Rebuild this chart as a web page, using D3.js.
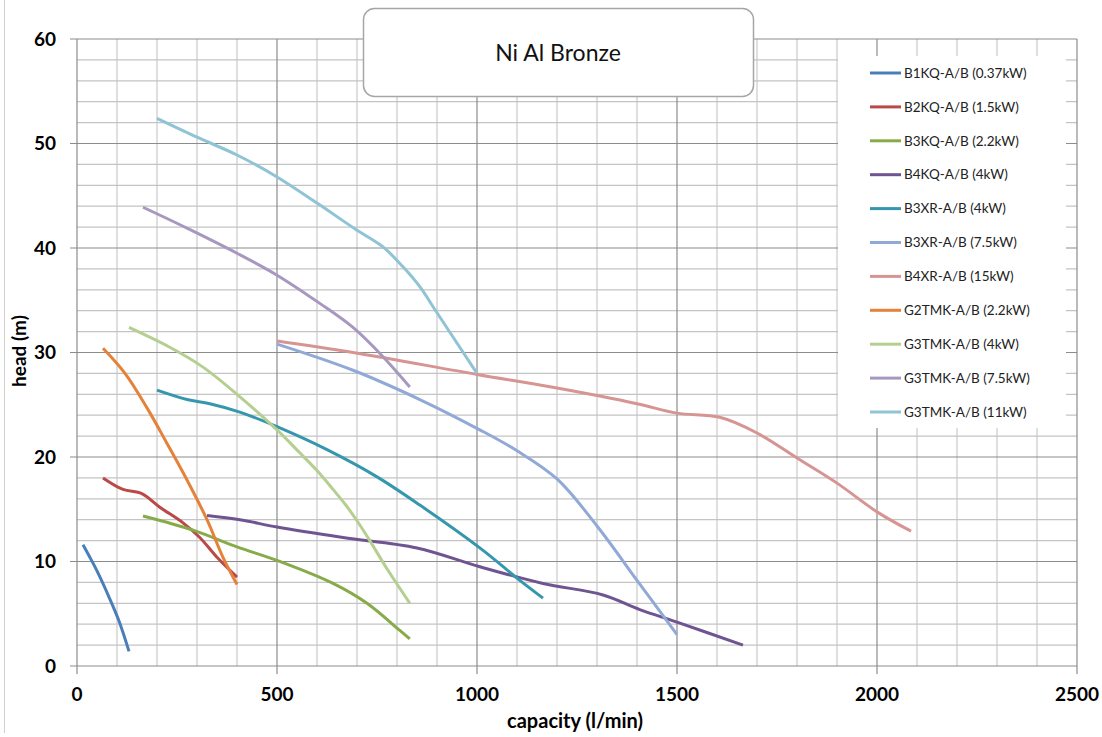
<!DOCTYPE html>
<html>
<head>
<meta charset="utf-8">
<script src="https://cdn.jsdelivr.net/npm/d3@7"></script>
<style>
  body { margin: 0; background: #fff; }
  text { font-family: Lato, "Open Sans", sans-serif; }
</style>
</head>
<body>
<div id="chart"></div>
<script>
// pump curves, [capacity l/min, head m]
const b1kq037 = [[15, 11.6], [35, 10.2], [50, 9.1], [80, 6.6], [105, 4.3], [130, 1.4]];
const b2kq15 = [[65, 18.0], [115, 16.9], [162, 16.5], [207, 15.2], [265, 13.7], [307, 12.3], [350, 10.4], [400, 8.5]];
const b3kq22 = [[165, 14.35], [290, 13.0], [400, 11.4], [500, 10.1], [640, 7.9], [725, 6.0], [807, 3.4], [832, 2.6]];
const b4kq4 = [[325, 14.4], [407, 14.0], [500, 13.3], [665, 12.3], [850, 11.3], [1007, 9.5], [1165, 7.9], [1315, 6.8], [1407, 5.4], [1500, 4.2], [1665, 2.0]];
const b3xr4 = [[200, 26.4], [275, 25.5], [332, 25.1], [407, 24.3], [500, 22.9], [625, 20.7], [750, 18.1], [857, 15.4], [1007, 11.3], [1107, 8.2], [1165, 6.5]];
const b3xr75 = [[500, 30.8], [690, 28.3], [857, 25.5], [1007, 22.6], [1100, 20.6], [1200, 17.9], [1300, 13.4], [1400, 8.2], [1500, 3.0]];
const b4xr15 = [[500, 31.1], [690, 30.0], [1000, 27.9], [1200, 26.6], [1400, 25.1], [1500, 24.2], [1607, 23.8], [1700, 22.3], [1800, 19.9], [1900, 17.5], [2002, 14.7], [2085, 12.9]];
const g2tmk22 = [[65, 30.4], [120, 28.0], [175, 24.7], [225, 21.3], [275, 17.8], [325, 14.0], [365, 10.4], [400, 7.8]];
const g3tmk4 = [[130, 32.4], [232, 30.5], [315, 28.6], [400, 26.0], [500, 22.6], [557, 20.4], [600, 18.7], [640, 16.9], [670, 15.5], [700, 13.9], [732, 12.0], [775, 9.3], [832, 6.0]];
const g3tmk75 = [[165, 43.9], [275, 41.9], [400, 39.5], [500, 37.4], [607, 34.7], [690, 32.4], [765, 29.6], [832, 26.7]];
const g3tmk11 = [[200, 52.4], [300, 50.6], [400, 48.9], [500, 46.8], [600, 44.3], [700, 41.7], [765, 40.1], [815, 38.2], [857, 36.3], [900, 33.8], [1000, 28.0]];

const seriesNames = ["B1KQ-A/B (0.37kW)", "B2KQ-A/B (1.5kW)", "B3KQ-A/B (2.2kW)", "B4KQ-A/B (4kW)",
  "B3XR-A/B (4kW)", "B3XR-A/B (7.5kW)", "B4XR-A/B (15kW)", "G2TMK-A/B (2.2kW)",
  "G3TMK-A/B (4kW)", "G3TMK-A/B (7.5kW)", "G3TMK-A/B (11kW)"];
const seriesData = [b1kq037, b2kq15, b3kq22, b4kq4, b3xr4, b3xr75, b4xr15, g2tmk22, g3tmk4, g3tmk75, g3tmk11];
const colors = ["#4a7ebb", "#b94a47", "#88ab4a", "#6e5592", "#3597ad", "#91a9d6", "#d69593",
  "#e5823a", "#b5cf90", "#a798c0", "#8fc4d4"];

const xTicks = [0, 500, 1000, 1500, 2000, 2500];
const yTicks = [0, 10, 20, 30, 40, 50, 60];
const title = "Ni Al Bronze";

const width = 1102, height = 737;
const plotLeft = 77, plotRight = 1077, plotTop = 39, plotBottom = 666;

const svg = d3.select("#chart").append("svg")
  .attr("width", width).attr("height", height);

const x = d3.scaleLinear().domain([0, 2500]).range([plotLeft, plotRight]);
const y = d3.scaleLinear().domain([0, 60]).range([plotBottom, plotTop]);

// chart area border (left edge visible)
svg.append("line").attr("x1", 4.5).attr("x2", 4.5).attr("y1", 0).attr("y2", 733)
  .attr("stroke", "#d0d0d0");

// minor grid
const grid = svg.append("g");
d3.range(0, 2501, 100).filter(v => v % 500 !== 0).forEach(v => {
  grid.append("line").attr("x1", x(v)).attr("x2", x(v)).attr("y1", plotTop).attr("y2", plotBottom)
    .attr("stroke", "#d4d4d4").attr("stroke-width", 1.5);
});
d3.range(0, 61, 2).filter(v => v % 10 !== 0).forEach(v => {
  grid.append("line").attr("x1", plotLeft).attr("x2", plotRight).attr("y1", y(v)).attr("y2", y(v))
    .attr("stroke", "#c4c4c4").attr("stroke-width", 1.2);
});
// major grid
xTicks.forEach(v => {
  grid.append("line").attr("x1", x(v)).attr("x2", x(v)).attr("y1", plotTop).attr("y2", plotBottom + 8)
    .attr("stroke", "#8c8c8c").attr("stroke-width", 1.2);
});
yTicks.forEach(v => {
  grid.append("line").attr("x1", plotLeft - 7).attr("x2", plotRight).attr("y1", y(v)).attr("y2", y(v))
    .attr("stroke", "#8c8c8c").attr("stroke-width", 1.2);
});

// tick labels
svg.append("g").selectAll("text").data(yTicks).join("text")
  .attr("x", 56).attr("y", d => y(d)).attr("dy", "0.36em")
  .attr("text-anchor", "end").attr("font-size", 19).attr("font-weight", "bold")
  .text(d => d);
svg.append("g").selectAll("text").data(xTicks).join("text")
  .attr("x", d => x(d)).attr("y", 701)
  .attr("text-anchor", "middle").attr("font-size", 19).attr("font-weight", "bold")
  .text(d => d);

// axis titles
svg.append("text").attr("x", 575).attr("y", 728).attr("text-anchor", "middle")
  .attr("font-size", 20).attr("font-weight", "bold").text("capacity (l/min)");
svg.append("text").attr("transform", "translate(26,351) rotate(-90)").attr("text-anchor", "middle")
  .attr("font-size", 19).attr("font-weight", "bold").text("head (m)");

// legend background
svg.append("rect").attr("x", 838).attr("y", 56).attr("width", 228).attr("height", 372)
  .attr("fill", "#fff");

// curves
const line = d3.line().x(d => x(d[0])).y(d => y(d[1])).curve(d3.curveCatmullRom.alpha(0.5));
svg.append("g").selectAll("path").data(seriesData).join("path")
  .attr("d", line)
  .attr("fill", "none")
  .attr("stroke", (d, i) => colors[i])
  .attr("stroke-width", 3)
  .attr("stroke-linejoin", "round");

// legend
const legend = svg.append("g");
seriesNames.forEach((name, i) => {
  const ly = 73 + i * 33.9;
  legend.append("line").attr("x1", 870).attr("x2", 901).attr("y1", ly).attr("y2", ly)
    .attr("stroke", colors[i]).attr("stroke-width", 3);
  legend.append("text").attr("x", 904).attr("y", ly).attr("dy", "0.35em")
    .attr("font-size", 13.5).attr("fill", "#222").text(name);
});

// title box
svg.append("rect").attr("x", 363.5).attr("y", 8.5).attr("width", 390).attr("height", 88)
  .attr("rx", 11).attr("fill", "#fff").attr("stroke", "#a6a6a6").attr("stroke-width", 1.5);
svg.append("text").attr("x", 558).attr("y", 53).attr("dy", "0.35em").attr("text-anchor", "middle")
  .attr("font-size", 23).attr("fill", "#111").text(title);
</script>
</body>
</html>
